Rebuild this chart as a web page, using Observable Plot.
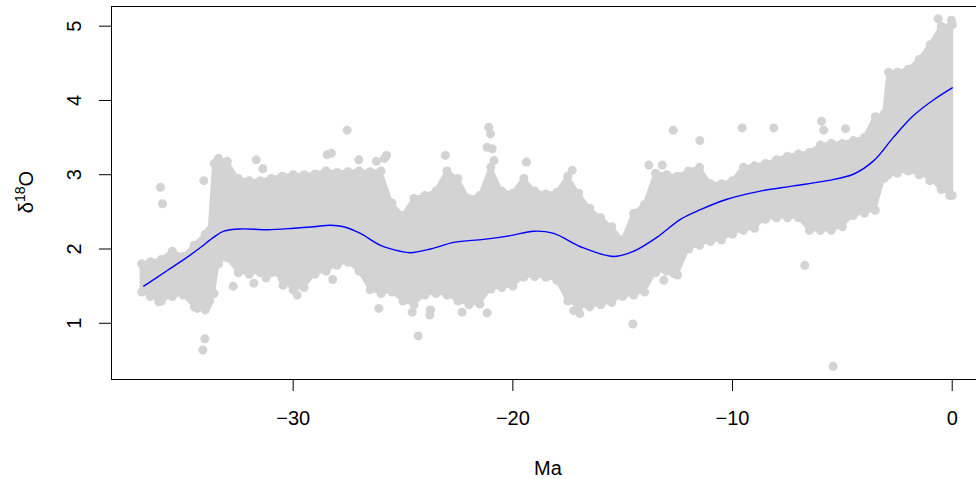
<!DOCTYPE html>
<html>
<head>
<meta charset="utf-8">
<script src="https://cdn.jsdelivr.net/npm/d3@7"></script>
<script src="https://cdn.jsdelivr.net/npm/@observablehq/plot@0.6"></script>
<style>
  html, body { margin: 0; padding: 0; background: white; overflow: hidden; }
  #chart { width: 976px; height: 479px; overflow: hidden; }
</style>
</head>
<body>
<div id="chart"></div>
<script>
// Dense cloud of δ18O observations: upper / lower envelope of the point cloud (Ma)
const envX  = [-36.9,-36.5,-36.0,-35.5,-35.0,-34.5,-34.0,-33.8,-33.6,-33.4,-33.0,-32.5,-32.0,-31.5,-31.0,-30.5,-30.0,-29.5,-29.0,-28.5,-28.0,-27.5,-27.0,-26.5,-26.0,-25.5,-25.0,-24.5,-24.0,-23.5,-23.0,-22.5,-22.0,-21.5,-21.0,-20.5,-20.0,-19.5,-19.0,-18.5,-18.0,-17.5,-17.0,-16.5,-16.0,-15.5,-15.0,-14.5,-14.0,-13.5,-13.0,-12.5,-12.0,-11.5,-11.0,-10.5,-10.0,-9.5,-9.0,-8.5,-8.0,-7.5,-7.0,-6.5,-6.0,-5.5,-5.0,-4.5,-4.0,-3.5,-3.1,-2.9,-2.5,-2.0,-1.5,-1.0,-0.5,0.0];
const envUp = [1.80,1.83,1.86,1.97,1.90,2.05,2.20,2.25,3.15,3.22,3.18,2.95,2.92,2.92,2.95,2.98,3.00,3.00,3.01,3.05,3.03,3.04,3.05,3.04,3.05,2.62,2.45,2.68,2.72,2.78,3.05,2.95,2.68,2.72,3.10,2.78,2.75,2.95,2.78,2.74,2.76,2.98,2.75,2.55,2.42,2.30,2.12,2.48,2.60,3.02,3.00,2.98,3.05,3.10,2.88,2.88,2.92,3.10,3.12,3.15,3.20,3.25,3.28,3.30,3.40,3.42,3.42,3.46,3.50,3.78,3.82,4.38,4.38,4.42,4.55,4.75,5.00,5.02];
const envLo = [1.42,1.36,1.30,1.36,1.38,1.22,1.18,1.30,1.40,1.80,1.88,1.68,1.66,1.68,1.68,1.60,1.45,1.48,1.66,1.70,1.78,1.82,1.70,1.45,1.40,1.42,1.30,1.25,1.38,1.40,1.38,1.30,1.25,1.26,1.46,1.48,1.50,1.62,1.63,1.62,1.58,1.30,1.22,1.22,1.25,1.28,1.36,1.38,1.42,1.68,1.70,1.65,2.00,2.05,2.10,2.12,2.20,2.25,2.28,2.40,2.42,2.42,2.42,2.25,2.25,2.25,2.30,2.45,2.48,2.52,2.95,3.00,3.02,3.05,3.00,2.95,2.80,2.72];

// Isolated points outside the dense cloud
const outX = [-36.04,-35.95,-34.07,-34.02,-34.11,-32.73,-31.68,-31.38,-30.46,-28.45,-28.26,-27.54,-28.20,-27.01,-26.21,-25.75,-25.85,-26.10,-24.31,-24.58,-23.78,-23.75,-22.31,-21.17,-21.10,-21.02,-21.17,-20.94,-20.86,-19.38,-23.07,-17.30,-17.23,-16.95,-14.54,-12.70,-13.81,-13.20,-11.49,-9.56,-8.12,-5.95,-5.85,-4.86,-6.71,-5.42,-13.13,-12.68,-0.64,-0.04,-1.05,-1.02,-0.38,-0.11,-36.12,-34.37,-33.91,-31.79,-31.23,-29.82];
const outY = [2.83,2.61,2.92,0.79,0.64,1.50,3.20,3.08,1.51,3.27,3.29,3.60,1.59,3.20,3.18,3.26,3.22,1.20,0.83,1.15,1.11,1.18,1.15,1.14,3.64,3.55,3.37,3.35,3.19,3.17,3.26,3.06,1.17,1.13,0.99,3.60,3.13,3.13,3.46,3.63,3.63,3.72,3.60,3.62,1.78,0.42,1.58,1.67,5.10,5.08,3.02,2.92,2.82,2.72,1.29,1.20,1.24,1.54,1.61,1.38];

// Smoothed trend
const lineX = [-36.80,-35.73,-34.82,-34.22,-33.61,-33.16,-32.40,-31.18,-29.97,-29.06,-28.30,-27.70,-26.94,-26.03,-25.12,-24.66,-23.75,-22.69,-21.32,-20.11,-19.05,-18.14,-16.92,-15.41,-14.50,-13.43,-12.37,-11.46,-10.25,-8.73,-7.21,-5.69,-4.48,-3.57,-2.66,-1.75,-0.84,0.00];
const lineY = [1.50,1.71,1.89,2.02,2.16,2.24,2.27,2.26,2.28,2.30,2.32,2.30,2.21,2.05,1.97,1.95,2.00,2.09,2.13,2.18,2.24,2.21,2.03,1.90,1.97,2.16,2.40,2.53,2.67,2.78,2.85,2.92,3.01,3.19,3.51,3.80,4.01,4.17];

const xTicks = [-30, -20, -10, 0];
const yTicks = [1, 2, 3, 4, 5];

const env = envX.map((x, i) => ({x, up: envUp[i], lo: envLo[i]}));
const edgePts = env.flatMap(d => [{x: d.x, y: d.up}, {x: d.x, y: d.lo}]);
const outliers = outX.map((x, i) => ({x, y: outY[i]}));
const trend = lineX.map((x, i) => ({x, y: lineY[i]}));

const GRAY = "#d3d3d3";
const FONT = "'Liberation Sans', Arial, Helvetica, sans-serif";

const svg = Plot.plot({
  width: 976,
  height: 479,
  marginLeft: 111,
  marginRight: -8,
  marginTop: 6,
  marginBottom: 100,
  style: {fontFamily: FONT, fontSize: "20px", background: "white", color: "black", overflow: "hidden"},
  x: {domain: [-38.27, 1.47]},
  y: {domain: [0.243, 5.265]},
  marks: [
    Plot.areaY(env, {x: "x", y1: "lo", y2: "up", fill: GRAY, stroke: GRAY, strokeWidth: 3, strokeLinejoin: "round"}),
    Plot.dot(edgePts, {x: "x", y: "y", r: 4.5, fill: GRAY, stroke: "none"}),
    Plot.dot(outliers, {x: "x", y: "y", r: 4.5, fill: GRAY, stroke: "none"}),
    Plot.line(trend, {x: "x", y: "y", stroke: "#0000ff", strokeWidth: 1.4, curve: "catmull-rom"}),
    Plot.frame({stroke: "black", strokeWidth: 1}),
    Plot.axisX({ticks: xTicks, tickSize: 12, tickPadding: 19, fontSize: 20, label: null, stroke: "black"}),
    Plot.axisY({ticks: yTicks, tickFormat: d => String(d), tickSize: 12, tickPadding: 19, tickRotate: -90, fontSize: 20, label: null, stroke: "black"}),
    Plot.text(["Ma"], {frameAnchor: "bottom", dy: 95, lineAnchor: "bottom", fontSize: 20, fill: "black"})
  ]
});

// y-axis title with superscript, as real text
const s = d3.select(svg);
const t = s.append("text")
  .attr("transform", "translate(33,192) rotate(-90)")
  .attr("text-anchor", "middle")
  .attr("font-family", FONT)
  .attr("font-size", 20)
  .attr("fill", "black");
t.append("tspan").text("δ");
t.append("tspan").attr("dy", -8).attr("font-size", 14).text("18");
t.append("tspan").attr("dy", 8).text("O");

document.getElementById("chart").appendChild(svg);
</script>
</body>
</html>
